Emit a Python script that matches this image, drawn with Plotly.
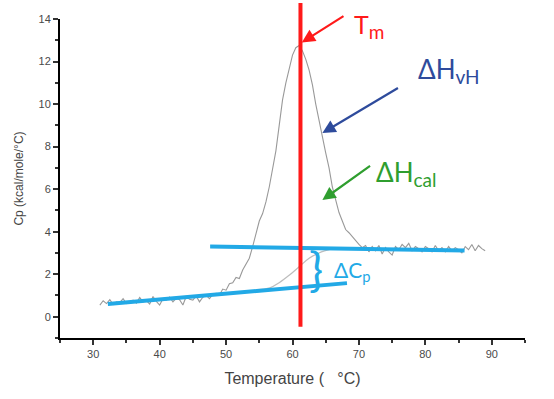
import plotly.graph_objects as go

# DSC trace (Temperature in °C, Cp in kcal/mole/°C)
temp = [31.0, 31.5, 32.0, 32.5, 33.0, 33.5, 34.0, 34.5, 35.0, 35.5, 36.0, 36.5, 37.0, 37.5, 38.0, 38.5,
        39.0, 39.5, 40.0, 40.5, 41.0, 41.5, 42.0, 42.5, 43.0, 43.5, 44.0, 44.5, 45.0, 45.5, 46.0, 46.5,
        47.0, 47.5, 48.0, 48.5, 49.0, 49.5, 50.0, 50.5, 51.0, 51.5, 52.0, 52.5, 53.0, 53.5, 54.0, 54.5,
        55.0, 55.5, 56.0, 56.5, 57.0, 57.5, 58.0, 58.5, 59.0, 59.5, 60.0, 60.5, 61.0, 61.5, 62.0, 62.5,
        63.0, 63.5, 64.0, 64.5, 65.0, 65.5, 66.0, 66.5, 67.0, 67.5, 68.0, 68.5, 69.0, 69.5, 70.0, 70.5,
        71.0, 71.5, 72.0, 72.5, 73.0, 73.5, 74.0, 74.5, 75.0, 75.5, 76.0, 76.5, 77.0, 77.5, 78.0, 78.5,
        79.0, 79.5, 80.0, 80.5, 81.0, 81.5, 82.0, 82.5, 83.0, 83.5, 84.0, 84.5, 85.0, 85.5, 86.0, 86.5,
        87.0, 87.5, 88.0, 88.5, 89.0]
cp = [0.55, 0.75, 0.62, 0.80, 0.58, 0.70, 0.66, 0.85, 0.62, 0.72, 0.78, 0.64, 0.90, 0.70, 0.76, 0.60,
      0.95, 0.72, 0.55, 0.85, 0.78, 0.92, 0.70, 0.88, 0.80, 0.55, 0.95, 0.82, 0.78, 0.98, 0.70, 0.92,
      1.00, 0.85, 1.05, 1.10, 1.02, 1.30, 1.25, 1.55, 1.60, 1.85, 1.80, 2.20, 2.45, 2.75, 3.30, 3.85,
      4.50, 4.85, 5.40, 6.10, 7.00, 7.80, 9.00, 10.20, 11.00, 11.60, 12.30, 12.65, 12.75, 12.50, 12.10, 11.60,
      10.90, 10.00, 9.20, 8.50, 7.70, 7.00, 6.10, 5.50, 4.90, 4.50, 4.10, 3.95, 3.75, 3.55, 3.40, 3.25,
      3.35, 3.05, 3.30, 3.10, 3.35, 2.95, 3.25, 3.05, 2.90, 3.30, 3.15, 3.40, 3.25, 3.45, 3.10, 3.30,
      3.20, 3.05, 3.30, 3.20, 3.05, 3.35, 3.10, 3.25, 3.05, 3.30, 3.10, 3.25, 3.15, 3.00, 3.30, 3.15,
      3.40, 3.10, 3.35, 3.20, 3.10]

# progress (sigmoidal) baseline
base_t = [54.5, 56.6, 58.0, 59.5, 61.0, 62.5, 64.0, 66.0]
base_cp = [1.27, 1.36, 1.60, 1.95, 2.35, 2.75, 3.00, 3.20]

# pre- and post-transition baselines
pre_t = [32.2, 68.2]
pre_cp = [0.60, 1.58]
post_t = [47.6, 85.9]
post_cp = [3.30, 3.11]

tm = 61.2

x_ticks = [30, 40, 50, 60, 70, 80, 90]
y_ticks = [0, 2, 4, 6, 8, 10, 12, 14]

BLUE = "#22a9e6"
RED = "#ff1a1a"
NAVY = "#2e4b9c"
GREEN = "#2f9e2f"

fig = go.Figure()
fig.add_trace(go.Scatter(x=base_t, y=base_cp, mode="lines", line=dict(color="#bdbdbd", width=1.2,
                                                                     shape="spline"), hoverinfo="skip"))
fig.add_trace(go.Scatter(x=temp, y=cp, mode="lines", line=dict(color="#999999", width=1.1), hoverinfo="skip"))
fig.add_trace(go.Scatter(x=pre_t, y=pre_cp, mode="lines", line=dict(color=BLUE, width=4)))
fig.add_trace(go.Scatter(x=post_t, y=post_cp, mode="lines", line=dict(color=BLUE, width=4)))

fig.add_shape(type="line", xref="x", yref="paper", x0=tm, x1=tm, y0=0.035, y1=1.05,
              line=dict(color=RED, width=4), layer="above")

ann_font = "Lato, Open Sans, sans-serif"
annotations = [
    # arrows
    dict(x=61.4, y=12.9, ax=67.9, ay=14.18, axref="x", ayref="y", arrowcolor=RED),
    dict(x=64.5, y=8.64, ax=76.1, ay=10.8, axref="x", ayref="y", arrowcolor=NAVY),
    dict(x=64.5, y=5.49, ax=71.9, ay=7.14, axref="x", ayref="y", arrowcolor=GREEN),
]
for a in annotations:
    a.update(text="", showarrow=True, arrowhead=2, arrowsize=1.2, arrowwidth=2.2, xref="x", yref="y")
    fig.add_annotation(**a)

fig.add_annotation(x=68.9, y=13.65, xref="x", yref="y",
                   text="T<sub><span style='font-size:19px'>m</span></sub>", showarrow=False,
                   xanchor="left", yanchor="middle", font=dict(family=ann_font, size=25, color=RED))
fig.add_annotation(x=78.6, y=11.6, xref="x", yref="y",
                   text="ΔH<sub><span style='font-size:19px'>vH</span></sub>", showarrow=False,
                   xanchor="left", yanchor="middle", font=dict(family=ann_font, size=26, color=NAVY))
fig.add_annotation(x=72.2, y=6.75, xref="x", yref="y",
                   text="ΔH<sub><span style='font-size:19px'>cal</span></sub>", showarrow=False,
                   xanchor="left", yanchor="middle", font=dict(family=ann_font, size=26, color=GREEN))
fig.add_annotation(x=66.0, y=2.15, xref="x", yref="y", text="ΔC<sub>p</sub>", showarrow=False,
                   xanchor="left", yanchor="middle", font=dict(family=ann_font, size=21, color=BLUE))
fig.add_annotation(x=63.5, y=2.3, xref="x", yref="y", text="}", showarrow=False,
                   xanchor="center", yanchor="middle", font=dict(family=ann_font, size=47, color=BLUE))

axis_common = dict(showline=True, linecolor="black", linewidth=2, ticks="outside", ticklen=5,
                   tickwidth=2, tickcolor="#333", showgrid=False, zeroline=False,
                   tickfont=dict(family="Liberation Sans, Arial", size=11, color="#4a4a4a"))

fig.update_layout(
    width=554, height=399, showlegend=False,
    margin=dict(l=60, r=29, t=19, b=61),
    paper_bgcolor="white", plot_bgcolor="white",
    xaxis=dict(range=[25, 95], tickvals=x_ticks, **axis_common,
               minor=dict(ticks="outside", ticklen=3, tickwidth=1.5, tickcolor="#333", dtick=5, tick0=25),
               title=dict(text="Temperature (   °C)", standoff=14,
                          font=dict(family="Liberation Sans, Arial", size=16, color="#444"))),
    yaxis=dict(range=[-1, 14], tickvals=y_ticks, **axis_common,
               minor=dict(ticks="outside", ticklen=3, tickwidth=1.5, tickcolor="#333", dtick=1, tick0=-1),
               title=dict(text="Cp (kcal/mole/°C)", standoff=12,
                          font=dict(family="Liberation Sans, Arial", size=12, color="#444"))),
)

fig.write_html("out.html", config={"displayModeBar": False},
               post_script="document.body.style.margin='0';")
